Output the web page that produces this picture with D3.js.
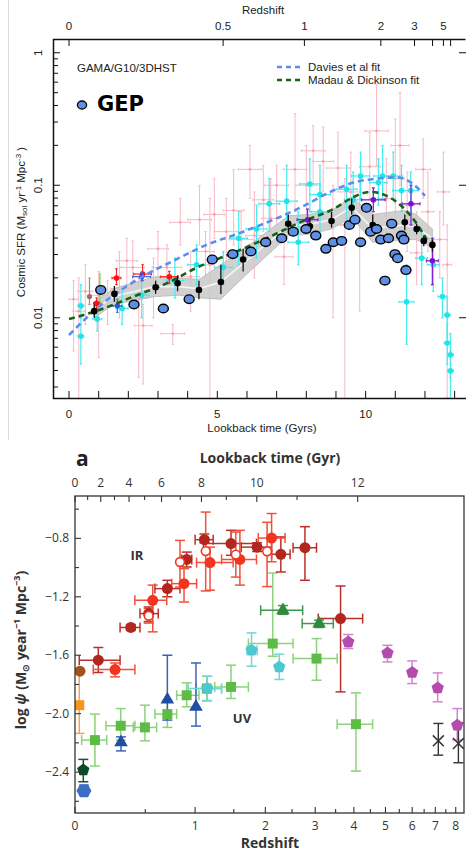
<!DOCTYPE html>
<html>
<head>
<meta charset="utf-8">
<script src="https://cdn.jsdelivr.net/npm/d3@7"></script>
<style>
body { margin: 0; background: #fff; }
svg { display: block; font-family: "Liberation Sans", Arial, sans-serif; }
</style>
</head>
<body>
<script>
// ---------- top panel (lookback time Gyr, log10 SFR) ----------
// [t, dt, logSFR, lo, hi]
const pink = [
    [0.15, 0.15, -1.86, -2.25, -1.72], [0.33, 0.2, -1.95, -2.7, -1.7], [0.55, 0.25, -1.80, -2.05, -1.6],
    [1.0, 0.3, -1.83, -2.3, -1.65], [1.3, 0.3, -1.88, -2.05, -1.72], [1.7, 0.3, -1.78, -2.0, -1.5],
    [1.95, 0.35, -1.57, -1.75, -1.4], [2.15, 0.4, -1.62, -1.75, -1.42], [2.35, 0.3, -1.85, -2.45, -1.7],
    [2.5, 0.3, -2.06, -2.5, -1.9], [2.85, 0.3, -1.79, -2.0, -1.55], [3.0, 0.35, -1.48, -1.7, -1.35],
    [3.3, 0.5, -1.62, -1.75, -1.45], [3.5, 0.4, -2.12, -2.2, -2.05], [3.75, 0.35, -1.28, -1.45, -1.1],
    [4.1, 0.3, -1.69, -1.95, -1.5], [4.4, 0.4, -1.26, -1.45, -1.0], [4.6, 0.3, -1.5, -1.7, -1.35],
    [4.75, 0.15, -1.6, -2.65, -1.1], [4.9, 0.35, -1.22, -1.4, -0.95], [5.3, 0.4, -1.35, -1.6, -1.1],
    [5.55, 0.35, -1.19, -1.45, -0.88], [5.8, 0.4, -1.41, -1.6, -1.2], [6.1, 0.4, -0.88, -1.1, -0.7],
    [6.25, 0.3, -1.38, -1.7, -1.05], [6.55, 0.35, -1.11, -1.35, -0.85], [6.8, 0.3, -1.25, -1.5, -0.95],
    [7.0, 0.4, -1.0, -1.3, -0.85], [7.25, 0.3, -1.54, -1.75, -1.3], [7.62, 0.4, -0.88, -1.2, -0.46],
    [8.0, 0.35, -1.0, -1.3, -0.7], [8.23, 0.4, -0.74, -1.0, -0.55], [8.57, 0.35, -0.82, -1.05, -0.56],
    [8.9, 0.3, -1.3, -2.0, -1.0], [9.07, 0.4, -0.87, -1.05, -0.6], [9.3, 0.15, -1.3, -2.65, -0.95],
    [9.5, 0.35, -1.05, -1.3, -0.75], [9.8, 0.4, -1.2, -1.95, -0.95], [10.14, 0.35, -0.86, -1.1, -0.6],
    [10.37, 0.4, -0.59, -0.85, -0.24], [10.7, 0.3, -1.1, -1.4, -0.8], [11.0, 0.3, -0.95, -1.25, -0.5],
    [11.16, 0.3, -0.70, -1.0, -0.3], [11.4, 0.25, -1.15, -1.5, -0.9], [11.72, 0.2, -1.51, -1.75, -1.2],
    [11.94, 0.25, -0.88, -1.1, -0.65], [12.1, 0.2, -1.2, -1.5, -0.9], [12.5, 0.25, -1.41, -1.7, -1.2],
    [12.62, 0.2, -1.05, -1.3, -0.75], [12.75, 0.15, -1.6, -2.6, -1.3]
];
const cyan = [
    [0.40, 0.1, -1.91, -2.0, -1.75], [0.40, 0.1, -2.14, -2.35, -2.0], [0.95, 0.15, -2.01, -2.1, -1.9],
    [1.79, 0.2, -1.93, -2.05, -1.8], [2.45, 0.25, -1.83, -2.0, -1.65], [3.57, 0.3, -1.72, -1.85, -1.55],
    [4.30, 0.3, -1.60, -1.75, -1.45], [5.2, 0.3, -1.62, -1.75, -1.5], [5.72, 0.3, -1.40, -1.6, -1.2],
    [6.32, 0.35, -1.33, -1.55, -1.15], [6.75, 0.35, -1.14, -1.35, -0.95], [7.34, 0.35, -1.12, -1.3, -0.85],
    [7.73, 0.35, -1.43, -1.6, -1.2], [8.12, 0.35, -0.99, -1.2, -0.8], [8.46, 0.35, -1.07, -1.25, -0.85],
    [8.46, 0.3, -1.20, -1.4, -1.0], [9.36, 0.35, -1.03, -1.25, -0.85], [9.58, 0.3, -1.11, -1.3, -0.9],
    [9.83, 0.3, -0.93, -1.1, -0.75], [10.43, 0.3, -0.98, -1.15, -0.8], [10.57, 0.3, -0.93, -1.1, -0.7],
    [10.93, 0.3, -0.93, -1.1, -0.75], [11.21, 0.3, -1.04, -1.2, -0.85], [11.52, 0.25, -1.04, -1.2, -0.9],
    [11.38, 0.25, -1.88, -2.2, -1.6], [11.89, 0.2, -1.55, -1.75, -1.35], [12.28, 0.2, -1.60, -1.8, -1.4],
    [12.59, 0.15, -1.84, -2.0, -1.7], [12.75, 0.1, -1.98, -2.15, -1.85], [12.75, 0.1, -2.19, -2.35, -2.05],
    [12.86, 0.1, -2.28, -2.45, -2.12], [12.86, 0.1, -2.40, -2.7, -2.25]
];
const purple = [[8.04, 0.35, -1.26, -1.35, -1.18], [10.26, 0.4, -1.11, -1.2, -1.02], [11.53, 0.3, -1.14, -1.3, -1.0], [12.25, 0.2, -1.57, -1.75, -1.4]];
const red = [[0.93, 0.1, -1.89, -1.93, -1.85], [1.6, 0.15, -1.70, -1.75, -1.63], [2.48, 0.3, -1.67, -1.72, -1.6], [3.38, 0.3, -1.69, -1.74, -1.65]];
const brown = [[0.69, 0.05, -1.84, -1.9, -1.7]];
const navy = [[1.63, 0.15, -1.91, -1.96, -1.86], [2.45, 0.3, -1.69, -1.72, -1.66]];
const lime = [[1.04, 0, -1.78, -1.89, -1.66]];
// GAMA/G10/3DHST points: [t, logSFR, lo, hi]
const gama = [
    [0.85, -1.95, -2.0, -1.9], [1.53, -1.82, -1.88, -1.76], [2.92, -1.77, -1.82, -1.72], [3.66, -1.74, -1.80, -1.68],
    [4.38, -1.79, -1.86, -1.72], [5.12, -1.73, -1.82, -1.6], [5.87, -1.56, -1.65, -1.48], [7.39, -1.29, -1.34, -1.22],
    [8.12, -1.31, -1.36, -1.25], [8.85, -1.27, -1.32, -1.2], [9.53, -1.17, -1.22, -1.1], [10.24, -1.30, -1.36, -1.22],
    [11.32, -1.28, -1.34, -1.22], [11.72, -1.33, -1.37, -1.29], [11.96, -1.42, -1.46, -1.38], [12.25, -1.45, -1.5, -1.41]
];
// grey model band: [t, lo, hi]
const band = [
    [0.85, -2.0, -1.88], [1.5, -1.90, -1.78], [2.9, -1.84, -1.69], [3.7, -1.83, -1.70], [4.4, -1.85, -1.71],
    [5.12, -1.86, -1.60], [5.9, -1.69, -1.48], [7.4, -1.38, -1.23], [8.1, -1.37, -1.22], [8.85, -1.33, -1.19],
    [9.53, -1.24, -1.09], [10.24, -1.43, -1.22], [11.3, -1.41, -1.19], [11.7, -1.41, -1.22], [12.25, -1.47, -1.33]
];
// GEP: [t, logSFR]
const gep = [
    [1.07, -1.79], [2.19, -1.90], [3.18, -1.93], [4.05, -1.86], [4.83, -1.56], [5.52, -1.52], [6.13, -1.50],
    [6.63, -1.43], [7.17, -1.40], [7.56, -1.35], [7.99, -1.33], [8.32, -1.38], [8.66, -1.48], [8.91, -1.43],
    [9.19, -1.42], [9.45, -1.30], [9.64, -1.26], [9.83, -1.43], [10.03, -1.17], [10.17, -1.35], [10.37, -1.33],
    [10.51, -1.41], [10.65, -1.72], [10.77, -1.40], [10.88, -1.29], [10.99, -1.52], [11.08, -1.55], [11.21, -1.38],
    [11.29, -1.41], [11.36, -1.64]
];
const madauFit = [
    [0, -2.01], [1.04, -1.94], [2.17, -1.84], [3.29, -1.74], [4.42, -1.61], [5.54, -1.51], [6.66, -1.40],
    [7.79, -1.28], [8.91, -1.18], [9.58, -1.09], [10.15, -1.05], [10.71, -1.08], [11.27, -1.17], [11.66, -1.27], [12.06, -1.41]
];
const daviesFit = [
    [0, -2.13], [1.04, -1.91], [2.39, -1.70], [3.52, -1.57], [4.64, -1.45], [5.76, -1.36], [6.89, -1.26],
    [7.79, -1.17], [8.91, -1.04], [9.58, -0.98], [10.37, -0.95], [11.04, -0.94], [11.6, -0.99], [12.0, -1.08]
];
const topZTicks = [0, 0.5, 1, 2, 3, 5];
const topZMinor = [4, 6];
const topYMajor = [0.01, 0.1, 1];

// ---------- bottom panel (redshift, log psi) ----------
// [z, logPsi, zlo, zhi, ylo, yhi]
const irDark = [
    [0.144, -1.634, 0.025, 0.297, -1.718, -1.547], [0.38, -1.41, 0.297, 0.455, -1.43, -1.39],
    [0.53, -1.315, 0.455, 0.617, -1.37, -1.27], [0.704, -1.144, 0.586, 0.833, -1.20, -1.087],
    [0.905, -0.944, 0.851, 0.962, -0.996, -0.894], [1.11, -0.809, 1.0, 1.22, -0.83, -0.77],
    [1.46, -0.836, 1.1, 1.85, -0.916, -0.745], [1.86, -0.86, 1.61, 2.11, -0.89, -0.83],
    [2.28, -0.909, 2.11, 2.46, -1.03, -0.79], [2.77, -0.864, 2.52, 3.03, -1.087, -0.72],
    [3.63, -1.349, 3.07, 4.26, -1.851, -1.126]
];
const irBright = [
    [0.26, -1.698, 0.111, 0.413, -1.748, -1.653], [0.566, -1.224, 0.413, 0.698, -1.44, -1.12],
    [0.876, -1.11, 0.747, 1.017, -1.236, -1.007], [1.18, -0.966, 1.017, 1.491, -1.155, -0.86],
    [1.59, -0.944, 1.33, 1.85, -1.12, -0.745], [2.11, -0.798, 1.88, 2.36, -0.96, -0.63]
];
const irOpen = [
    [0.53, -1.33, 0.53, 0.53, -1.38, -1.28], [0.833, -0.962, 0.833, 0.833, -1.133, -0.814],
    [1.126, -0.887, 1.126, 1.126, -1.16, -0.62], [1.53, -0.911, 1.53, 1.53, -1.065, -0.757],
    [2.03, -0.889, 2.03, 2.03, -1.13, -0.69]
];
const irLocal = [[0.029, -1.709, 0.029, 0.029, -1.709, -1.709]];
const uvOrange = [[0.025, -1.942, 0.025, 0.025, -2.135, -1.725]];
const uvLocalPent = [[0.049, -2.386, 0.049, 0.049, -2.466, -2.313]];
const uvLocalHex = [[0.053, -2.528, 0.053, 0.053, -2.56, -2.49]];
const uvGreen = [
    [0.122, -2.181, 0.039, 0.201, -2.359, -2.003], [0.302, -2.083, 0.196, 0.413, -2.181, -1.965],
    [0.497, -2.094, 0.4, 0.602, -2.186, -1.942], [0.704, -2.003, 0.586, 0.798, -2.094, -1.908],
    [0.905, -1.874, 0.798, 1.045, -1.953, -1.789], [1.14, -1.828, 1.01, 1.33, -1.913, -1.744],
    [1.46, -1.817, 1.24, 1.72, -1.896, -1.668], [2.13, -1.52, 1.72, 2.52, -1.607, -1.037],
    [3.03, -1.623, 2.52, 3.54, -1.771, -1.486], [4.06, -2.072, 3.54, 4.57, -2.393, -1.858]
];
const uvTriGreen = [[2.32, -1.292, 1.92, 2.72, -1.32, -1.26], [3.09, -1.383, 2.71, 3.44, -1.41, -1.36]];
const uvTriBlue = [
    [0.304, -2.197, 0.304, 0.304, -2.255, -2.159], [0.704, -1.903, 0.704, 0.704, -2.044, -1.6],
    [1.01, -1.954, 1.01, 1.01, -2.085, -1.653]
];
const uvCyan = [
    [1.146, -1.828, 0.923, 1.33, -1.91, -1.744], [1.77, -1.566, 1.70, 1.86, -1.675, -1.447],
    [2.25, -1.68, 2.25, 2.25, -1.766, -1.593]
];
const uvMagenta = [
    [3.84, -1.509, 3.84, 3.84, -1.554, -1.458], [5.07, -1.584, 5.07, 5.07, -1.646, -1.532],
    [6.0, -1.718, 6.0, 6.0, -1.794, -1.639], [7.11, -1.824, 7.11, 7.11, -1.919, -1.721],
    [8.08, -2.079, 8.08, 8.08, -2.181, -1.965]
];
const uvStar = [[7.14, -2.186, 7.14, 7.14, -2.284, -2.067], [8.14, -2.204, 8.14, 8.14, -2.336, -2.063]];
const botZTicks = [0, 1, 2, 3, 4, 5, 6, 7, 8];
const botZMinor = [0.5, 1.5, 2.5, 3.5, 4.5, 5.5, 6.5, 7.5];
const botYMajor = [-0.8, -1.2, -1.6, -2, -2.4];
const botYMinor = [-0.6, -1.0, -1.4, -1.8, -2.2, -2.6];
const botAgeTicks = [0, 1, 2, 3, 4, 5, 6, 7, 8, 9, 10, 11, 12];

// flat LCDM lookback time in Gyr
const lookback = (z, H0, Om) => {
    const n = 200, h = z / n;
    const f = zz => 1 / ((1 + zz) * Math.sqrt(Om * Math.pow(1 + zz, 3) + 1 - Om));
    let s = f(0) + f(z);
    for (let i = 1; i < n; i++) s += f(i * h) * (i % 2 ? 4 : 2);
    return 977.8 / H0 * s * h / 3;
}
const redshiftAt = (t, H0, Om) => {
    let lo = 0, hi = 30;
    for (let i = 0; i < 60; i++) {
        let mid = (lo + hi) / 2;
        if (lookback(mid, H0, Om) < t) lo = mid; else hi = mid;
    }
    return (lo + hi) / 2;
}

const polyPath = (n, r, rot) => {
    let pts = d3.range(n).map(i => {
        let a = rot + i * 2 * Math.PI / n;
        return [r * Math.cos(a), r * Math.sin(a)];
    });
    return 'M' + pts.join('L') + 'Z';
}

const draw = () => {
    let w = 466, h = 855;
    let svg = d3.select('body').append('svg')
        .attr('width', w)
        .attr('height', h);

    // page edge line of the upper figure
    svg.append('line').attr('x1', 8.5).attr('x2', 8.5).attr('y1', 0).attr('y2', 440)
        .attr('stroke', '#dcdcdc').attr('stroke-width', 1);

    // ================= TOP PANEL =================
    let xT = d3.scaleLinear().domain([-0.54, 13.35]).range([53, 465]);
    let yT = d3.scaleLog().domain([0.00248, 1.27]).range([398, 39]);
    let Y = v => yT(Math.pow(10, v));

    svg.append('clipPath').attr('id', 'clipTop')
        .append('rect').attr('x', 53).attr('y', 39).attr('width', 412).attr('height', 359);
    let top = svg.append('g').attr('clip-path', 'url(#clipTop)');

    let errTop = (data, color, sw, cap) => {
        let g = top.append('g').attr('stroke', color).attr('stroke-width', sw);
        data.forEach(d => {
            g.append('line').attr('x1', xT(d[0])).attr('x2', xT(d[0])).attr('y1', Y(d[3])).attr('y2', Y(d[4]));
            if (d[1] > 0) {
                g.append('line').attr('x1', xT(d[0] - d[1])).attr('x2', xT(d[0] + d[1])).attr('y1', Y(d[2])).attr('y2', Y(d[2]));
                g.append('line').attr('x1', xT(d[0] - d[1])).attr('x2', xT(d[0] - d[1])).attr('y1', Y(d[2]) - cap).attr('y2', Y(d[2]) + cap);
                g.append('line').attr('x1', xT(d[0] + d[1])).attr('x2', xT(d[0] + d[1])).attr('y1', Y(d[2]) - cap).attr('y2', Y(d[2]) + cap);
            }
            g.append('line').attr('x1', xT(d[0]) - cap).attr('x2', xT(d[0]) + cap).attr('y1', Y(d[3])).attr('y2', Y(d[3]));
            g.append('line').attr('x1', xT(d[0]) - cap).attr('x2', xT(d[0]) + cap).attr('y1', Y(d[4])).attr('y2', Y(d[4]));
        });
    }
    let dotsTop = (data, color, r) => {
        top.append('g').selectAll('circle')
            .data(data)
            .enter()
            .append('circle')
            .attr('cx', d => xT(d[0]))
            .attr('cy', d => Y(d[2]))
            .attr('r', r)
            .attr('fill', color);
    }

    errTop(pink, '#f8b9c5', 1, 1.2);
    dotsTop(pink, '#f5a3b4', 1.4);

    // grey band
    top.append('path')
        .datum(band)
        .attr('d', d3.area().x(d => xT(d[0])).y0(d => Y(d[1])).y1(d => Y(d[2])))
        .attr('fill', '#c9c9c9')
        .attr('fill-opacity', 0.85)
        .attr('stroke', '#b5b5b5')
        .attr('stroke-width', 0.8);
    top.append('path')
        .datum(band)
        .attr('d', d3.line().x(d => xT(d[0])).y(d => Y((d[1] + d[2]) / 2)))
        .attr('fill', 'none')
        .attr('stroke', '#f4f4f4')
        .attr('stroke-width', 1.6);

    errTop(cyan, '#45ecef', 1.2, 1.2);
    dotsTop(cyan, '#1ee5ea', 2.8);
    errTop(lime, '#7ee05a', 1.6, 0);
    errTop(brown, '#b08080', 1.2, 1);
    dotsTop(brown, '#a06a6a', 2.6);
    errTop(red, '#ff2020', 1.2, 1.2);
    dotsTop(red, '#ff1010', 2.8);
    errTop(navy, '#4060e0', 1.2, 1.2);
    dotsTop(navy, '#3050d8', 2.6);
    errTop(purple, '#8a1fd8', 1.3, 1.5);
    dotsTop(purple, '#7a10cc', 2.8);

    // fits
    top.append('path')
        .datum(daviesFit)
        .attr('d', d3.line().curve(d3.curveMonotoneX).x(d => xT(d[0])).y(d => Y(d[1])))
        .attr('fill', 'none')
        .attr('stroke', '#5b8df2')
        .attr('stroke-width', 2.6)
        .attr('stroke-dasharray', '6,4');
    top.append('path')
        .datum(madauFit)
        .attr('d', d3.line().curve(d3.curveMonotoneX).x(d => xT(d[0])).y(d => Y(d[1])))
        .attr('fill', 'none')
        .attr('stroke', '#19601a')
        .attr('stroke-width', 2.6)
        .attr('stroke-dasharray', '6,4');

    // GAMA/G10/3DHST black points
    let gb = top.append('g');
    gb.selectAll('line')
        .data(gama)
        .enter()
        .append('line')
        .attr('x1', d => xT(d[0])).attr('x2', d => xT(d[0]))
        .attr('y1', d => Y(d[2])).attr('y2', d => Y(d[3]))
        .attr('stroke', '#111').attr('stroke-width', 1.3);
    gb.selectAll('circle')
        .data(gama)
        .enter()
        .append('circle')
        .attr('cx', d => xT(d[0]))
        .attr('cy', d => Y(d[1]))
        .attr('r', 3.3)
        .attr('fill', '#000');

    // GEP points
    top.append('g').selectAll('ellipse')
        .data(gep)
        .enter()
        .append('ellipse')
        .attr('cx', d => xT(d[0]))
        .attr('cy', d => Y(d[1]))
        .attr('rx', 5)
        .attr('ry', 4.3)
        .attr('fill', '#5f8fe3')
        .attr('stroke', '#000')
        .attr('stroke-width', 1.4);

    // frame and axes
    svg.append('path')
        .attr('d', 'M465.5,39.5H53.5V398.5H470')
        .attr('fill', 'none').attr('stroke', '#111').attr('stroke-width', 1.5);

    let minorY = [];
    [0.001, 0.01, 0.1].forEach(dec => d3.range(2, 10).forEach(k => minorY.push(dec * k)));
    minorY = minorY.filter(v => v > 0.00248 && v < 1.27);
    let axT = svg.append('g').attr('stroke', '#111').attr('stroke-width', 1);
    topYMajor.forEach(v => {
        axT.append('line').attr('x1', 53).attr('x2', 60).attr('y1', yT(v)).attr('y2', yT(v));
        axT.append('line').attr('x1', 459).attr('x2', 466).attr('y1', yT(v)).attr('y2', yT(v));
    });
    minorY.forEach(v => {
        axT.append('line').attr('x1', 53).attr('x2', 58).attr('y1', yT(v)).attr('y2', yT(v));
    });
    d3.range(0, 14).forEach(v => {
        axT.append('line').attr('x1', xT(v)).attr('x2', xT(v)).attr('y1', 398).attr('y2', 391);
    });
    topZTicks.concat(topZMinor).forEach(z => {
        let x = xT(lookback(z, 67.7, 0.31));
        axT.append('line').attr('x1', x).attr('x2', x).attr('y1', 39).attr('y2', 46);
    });

    let tf = svg.append('g').attr('font-size', 11.5).attr('fill', '#222');
    topYMajor.forEach(v => {
        tf.append('text')
            .attr('transform', `translate(42,${yT(v)}) rotate(-90)`)
            .attr('text-anchor', 'middle')
            .text(v);
    });
    [0, 5, 10].forEach(v => {
        tf.append('text').attr('x', xT(v)).attr('y', 418).attr('text-anchor', 'middle').text(v);
    });
    topZTicks.forEach(z => {
        tf.append('text').attr('x', xT(lookback(z, 67.7, 0.31))).attr('y', 30).attr('text-anchor', 'middle').text(z);
    });
    tf.append('text').attr('x', 262).attr('y', 432).attr('text-anchor', 'middle').text('Lookback time (Gyrs)');
    tf.append('text').attr('x', 263).attr('y', 14).attr('text-anchor', 'middle').text('Redshift');
    let yl = tf.append('text')
        .attr('transform', 'translate(25,222) rotate(-90)')
        .attr('text-anchor', 'middle');
    yl.append('tspan').text('Cosmic SFR (M');
    yl.append('tspan').attr('font-size', 8).attr('dy', 2).text('sol');
    yl.append('tspan').attr('dy', -2).text(' yr');
    yl.append('tspan').attr('font-size', 8).attr('dy', -4).text('-1');
    yl.append('tspan').attr('dy', 4).text(' Mpc');
    yl.append('tspan').attr('font-size', 8).attr('dy', -4).text('-3');
    yl.append('tspan').attr('dy', 4).text(' )');

    // legend
    tf.append('text').attr('x', 77).attr('y', 72).text('GAMA/G10/3DHST');
    svg.append('line').attr('x1', 277).attr('x2', 301).attr('y1', 67).attr('y2', 67)
        .attr('stroke', '#5b8df2').attr('stroke-width', 2.6).attr('stroke-dasharray', '5,4');
    svg.append('line').attr('x1', 277).attr('x2', 301).attr('y1', 80).attr('y2', 80)
        .attr('stroke', '#19601a').attr('stroke-width', 2.6).attr('stroke-dasharray', '5,4');
    tf.append('text').attr('x', 308).attr('y', 71).text('Davies et al fit');
    tf.append('text').attr('x', 308).attr('y', 84).text('Madau & Dickinson fit');
    svg.append('ellipse').attr('cx', 82).attr('cy', 105).attr('rx', 4.6).attr('ry', 4)
        .attr('fill', '#5f8fe3').attr('stroke', '#000').attr('stroke-width', 1.3);
    svg.append('text').attr('x', 97).attr('y', 111)
        .attr('font-family', '"DejaVu Sans", sans-serif').attr('font-weight', 'bold')
        .attr('font-size', 21).attr('fill', '#000').text('GEP');

    // ================= BOTTOM PANEL =================
    let xB = d3.scaleLog().domain([1, 9.44]).range([75, 464]);
    let X = z => xB(1 + z);
    let yB = d3.scaleLinear().domain([-2.68, -0.51]).range([813, 496]);

    svg.append('clipPath').attr('id', 'clipBot')
        .append('rect').attr('x', 75).attr('y', 496).attr('width', 389).attr('height', 317);
    let bot = svg.append('g').attr('clip-path', 'url(#clipBot)');

    let errBot = (data, color, sw) => {
        let g = bot.append('g').attr('stroke', color).attr('stroke-width', sw);
        let cap = 5;
        data.forEach(d => {
            if (d[4] !== d[5]) {
                g.append('line').attr('x1', X(d[0])).attr('x2', X(d[0])).attr('y1', yB(d[4])).attr('y2', yB(d[5]));
                g.append('line').attr('x1', X(d[0]) - cap).attr('x2', X(d[0]) + cap).attr('y1', yB(d[4])).attr('y2', yB(d[4]));
                g.append('line').attr('x1', X(d[0]) - cap).attr('x2', X(d[0]) + cap).attr('y1', yB(d[5])).attr('y2', yB(d[5]));
            }
            if (d[2] !== d[3]) {
                g.append('line').attr('x1', X(d[2])).attr('x2', X(d[3])).attr('y1', yB(d[1])).attr('y2', yB(d[1]));
                g.append('line').attr('x1', X(d[2])).attr('x2', X(d[2])).attr('y1', yB(d[1]) - cap).attr('y2', yB(d[1]) + cap);
                g.append('line').attr('x1', X(d[3])).attr('x2', X(d[3])).attr('y1', yB(d[1]) - cap).attr('y2', yB(d[1]) + cap);
            }
        });
    }
    let markBot = (data, pathStr, fill, stroke, sw) => {
        bot.append('g').selectAll('path')
            .data(data)
            .enter()
            .append('path')
            .attr('d', pathStr)
            .attr('transform', d => `translate(${X(d[0])},${yB(d[1])})`)
            .attr('fill', fill)
            .attr('stroke', stroke)
            .attr('stroke-width', sw);
    }
    let circ = d3.symbol(d3.symbolCircle, 95)();
    let square = d3.symbol(d3.symbolSquare, 100)();
    let tri = d3.symbol(d3.symbolTriangle, 80)();
    let pent = polyPath(5, 6.5, -Math.PI / 2);
    let hex = polyPath(6, 7.5, 0);
    let star = d3.symbol(d3.symbolX, 80)();

    errBot(uvGreen, '#8cd27a', 1.5);
    errBot(uvTriGreen, '#3d9a4a', 1.5);
    errBot(uvTriBlue, '#3b62b8', 1.5);
    errBot(uvCyan, '#72d5dc', 1.5);
    errBot(uvMagenta, '#d085cf', 1.5);
    errBot(uvStar, '#333', 1.4);
    errBot(uvOrange, '#f7a24a', 1.5);
    errBot(uvLocalPent, '#1d4e35', 1.5);
    errBot(uvLocalHex, '#4a78c8', 1.5);
    errBot(irDark, '#b9302a', 1.5);
    errBot(irBright, '#f1503b', 1.5);
    errBot(irOpen, '#f1503b', 1.5);

    markBot(uvGreen, square, '#5dbb46', 'none', 0);
    markBot(uvTriGreen, tri, '#2e8a3e', 'none', 0);
    markBot(uvTriBlue, tri, '#1f4ea4', 'none', 0);
    markBot(uvCyan, pent, '#4ec8d0', 'none', 0);
    markBot(uvMagenta, pent, '#b44cae', 'none', 0);
    markBot(uvStar, star, 'none', '#333', 1.5);
    markBot(uvOrange, square, '#f7941d', 'none', 0);
    markBot(uvLocalPent, pent, '#0b4a2a', 'none', 0);
    markBot(uvLocalHex, hex, '#3a6fc4', 'none', 0);
    markBot(irLocal, circ, '#a3521f', 'none', 0);
    markBot(irDark, circ, '#b3261e', 'none', 0);
    markBot(irBright, circ, '#f2351f', 'none', 0);
    markBot(irOpen, d3.symbol(d3.symbolCircle, 60)(), '#fff', '#f2351f', 1.6);

    // frame
    svg.append('rect').attr('x', 75).attr('y', 496).attr('width', 389).attr('height', 317)
        .attr('fill', 'none').attr('stroke', '#333').attr('stroke-width', 1.3);

    let axB = svg.append('g').attr('stroke', '#333').attr('stroke-width', 1.1);
    botYMajor.forEach(v => axB.append('line').attr('x1', 75).attr('x2', 81).attr('y1', yB(v)).attr('y2', yB(v)));
    botYMinor.forEach(v => axB.append('line').attr('x1', 75).attr('x2', 79).attr('y1', yB(v)).attr('y2', yB(v)));
    botZTicks.forEach(z => axB.append('line').attr('x1', X(z)).attr('x2', X(z)).attr('y1', 813).attr('y2', 807));
    botZMinor.forEach(z => axB.append('line').attr('x1', X(z)).attr('x2', X(z)).attr('y1', 813).attr('y2', 809));
    botAgeTicks.forEach(t => {
        let x = X(redshiftAt(t, 70, 0.3));
        axB.append('line').attr('x1', x).attr('x2', x).attr('y1', 496).attr('y2', t % 2 ? 500 : 502);
    });

    let bf = svg.append('g').attr('font-family', '"Open Sans", sans-serif').attr('fill', '#333');
    botYMajor.forEach(v => {
        bf.append('text').attr('x', 69).attr('y', yB(v) + 4).attr('text-anchor', 'end')
            .attr('font-size', 12).text(d3.format('.1f')(v).replace('-', '\u2212'));
    });
    botZTicks.forEach(z => {
        bf.append('text').attr('x', X(z)).attr('y', 830).attr('text-anchor', 'middle')
            .attr('font-size', 12).text(z);
    });
    botAgeTicks.filter(t => t % 2 === 0).forEach(t => {
        bf.append('text').attr('x', X(redshiftAt(t, 70, 0.3))).attr('y', 487).attr('text-anchor', 'middle')
            .attr('font-size', 12).text(t);
    });
    bf.append('text').attr('x', 76).attr('y', 466).attr('font-size', 21).attr('font-weight', 'bold').attr('fill', '#222').text('a');
    bf.append('text').attr('x', 270).attr('y', 463).attr('text-anchor', 'middle')
        .attr('font-size', 14).attr('font-weight', 'bold').text('Lookback time (Gyr)');
    bf.append('text').attr('x', 270).attr('y', 848).attr('text-anchor', 'middle')
        .attr('font-size', 14).attr('font-weight', 'bold').text('Redshift');
    bf.append('text').attr('x', 137).attr('y', 560).attr('text-anchor', 'middle')
        .attr('font-size', 13).attr('font-weight', 'bold').text('IR');
    bf.append('text').attr('x', 242).attr('y', 723).attr('text-anchor', 'middle')
        .attr('font-size', 13).attr('font-weight', 'bold').text('UV');
    let yb = bf.append('text')
        .attr('transform', 'translate(26,650) rotate(-90)')
        .attr('text-anchor', 'middle')
        .attr('font-size', 14).attr('font-weight', 'bold');
    yb.append('tspan').text('log ');
    yb.append('tspan').attr('font-style', 'italic').text('\u03c8');
    yb.append('tspan').text(' (M');
    yb.append('tspan').attr('font-size', 9).attr('dy', 3).text('\u2299');
    yb.append('tspan').attr('dy', -3).text(' year');
    yb.append('tspan').attr('font-size', 9).attr('dy', -6).text('\u22121');
    yb.append('tspan').attr('dy', 6).text(' Mpc');
    yb.append('tspan').attr('font-size', 9).attr('dy', -6).text('\u22123');
    yb.append('tspan').attr('dy', 6).text(')');
}

draw()
</script>
</body>
</html>
